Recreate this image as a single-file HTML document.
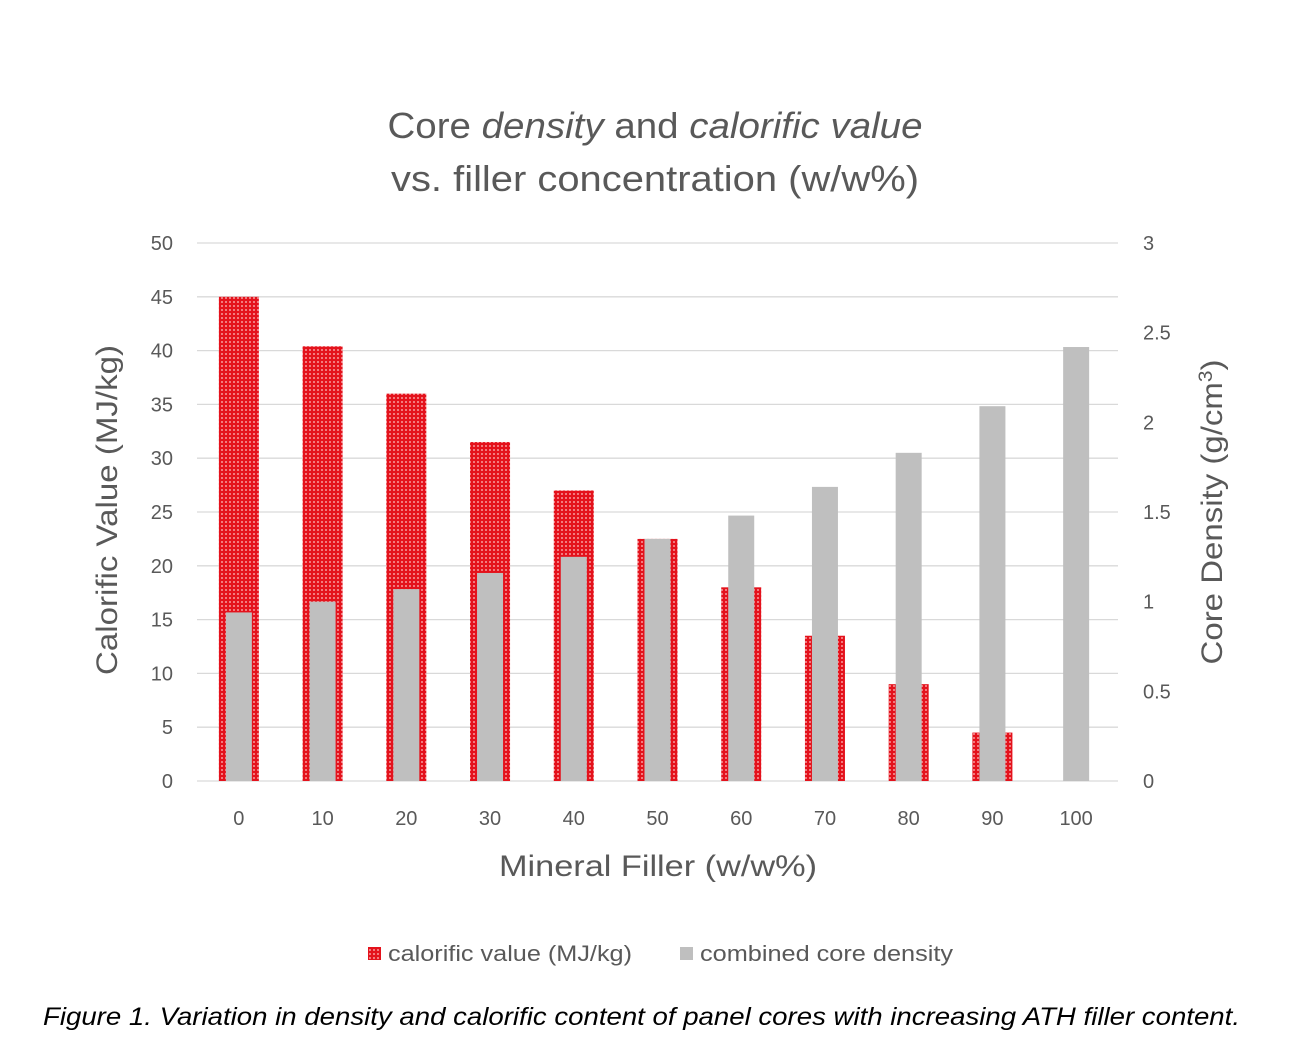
<!DOCTYPE html>
<html><head><meta charset="utf-8"><style>
body{margin:0;background:#fff;width:1296px;height:1056px;overflow:hidden;font-family:"Liberation Sans",sans-serif}
</style></head><body>
<svg width="1296" height="1056" xmlns="http://www.w3.org/2000/svg">
<defs>
<pattern id="dots" width="4" height="4" patternUnits="userSpaceOnUse">
<rect width="4" height="4" fill="#e4121c"/><rect x="1" y="1" width="2" height="2" fill="#f27a7e"/>
</pattern>
</defs>
<text x="655" y="138" text-anchor="middle" font-size="36" fill="#595959" textLength="535" lengthAdjust="spacingAndGlyphs">Core <tspan font-style="italic">density</tspan> and <tspan font-style="italic">calorific value</tspan></text>
<text x="655" y="191" text-anchor="middle" font-size="36" fill="#595959" textLength="528" lengthAdjust="spacingAndGlyphs">vs. filler concentration (w/w%)</text>
<g id="grid"></g><g id="bars"></g><g id="axes"></g>
<text transform="translate(117,510) rotate(-90)" text-anchor="middle" font-size="30" fill="#595959" textLength="330" lengthAdjust="spacingAndGlyphs">Calorific Value (MJ/kg)</text>
<text transform="translate(1222,512) rotate(-90)" text-anchor="middle" font-size="30" fill="#595959" textLength="305" lengthAdjust="spacingAndGlyphs">Core Density (g/cm<tspan baseline-shift="super" font-size="19">3</tspan>)</text>
<text x="658" y="876" text-anchor="middle" font-size="30" fill="#595959" textLength="318" lengthAdjust="spacingAndGlyphs">Mineral Filler (w/w%)</text>
<g>
<rect x="368" y="947" width="13" height="13" fill="url(#dots)"/>
<text x="388" y="961" font-size="22" fill="#595959" textLength="244" lengthAdjust="spacingAndGlyphs">calorific value (MJ/kg)</text>
<rect x="680" y="947" width="13" height="13" fill="#bfbfbf"/>
<text x="700" y="961" font-size="22" fill="#595959" textLength="253" lengthAdjust="spacingAndGlyphs">combined core density</text>
</g>
<text x="43" y="1025" font-size="25" font-style="italic" fill="#000" textLength="1197" lengthAdjust="spacingAndGlyphs">Figure 1. Variation in density and calorific content of panel cores with increasing ATH filler content.</text>
</svg>
<script>
const categories=[0,10,20,30,40,50,60,70,80,90,100];
const calorific=[45,40.4,36,31.5,27,22.5,18,13.5,9,4.5,0];
const density=[0.94,1.0,1.07,1.16,1.25,1.35,1.48,1.64,1.83,2.09,2.42];
const leftTicks=[0,5,10,15,20,25,30,35,40,45,50];
const rightTicks=[0,0.5,1,1.5,2,2.5,3];
const NS="http://www.w3.org/2000/svg";
const L=197,R=1118,Y0=781,Y1=243;
const yL=v=>Y0-(v/50)*(Y0-Y1);
const yR=v=>Y0-(v/3)*(Y0-Y1);
const step=(R-L)/categories.length;
const xC=i=>L+step*(i+0.5);
function mk(tag,attrs,parent){const e=document.createElementNS(NS,tag);for(const k in attrs)e.setAttribute(k,attrs[k]);document.getElementById(parent).appendChild(e);return e;}
leftTicks.forEach(t=>{
 const l=mk('line',{x1:L,x2:R,y1:yL(t),y2:yL(t),stroke:'#d9d9d9','stroke-width':1.3},'grid');
 
 
 const tx=mk('text',{x:173,y:yL(t)+7,'text-anchor':'end','font-size':20,fill:'#595959'},'axes');
 tx.textContent=t;
 
 
});
rightTicks.forEach(t=>{
 const tx=mk('text',{x:1143,y:yR(t)+7,'font-size':20,fill:'#595959'},'axes');
 tx.textContent=t;
 
 
});
categories.forEach((c,i)=>{
 const tx=mk('text',{x:xC(i),y:825,'text-anchor':'middle','font-size':20,fill:'#595959'},'axes');
 tx.textContent=c;
 
 
 if(calorific[i]>0){
  const r=mk('rect',{x:xC(i)-20,y:yL(calorific[i]),width:40,height:Y0-yL(calorific[i]),fill:'url(#dots)'},'bars');
  
  
 }
 const g=mk('rect',{x:xC(i)-13,y:yR(density[i]),width:26,height:Y0-yR(density[i]),fill:'#bfbfbf'},'bars');
 
 
});
</script>
</body></html>
